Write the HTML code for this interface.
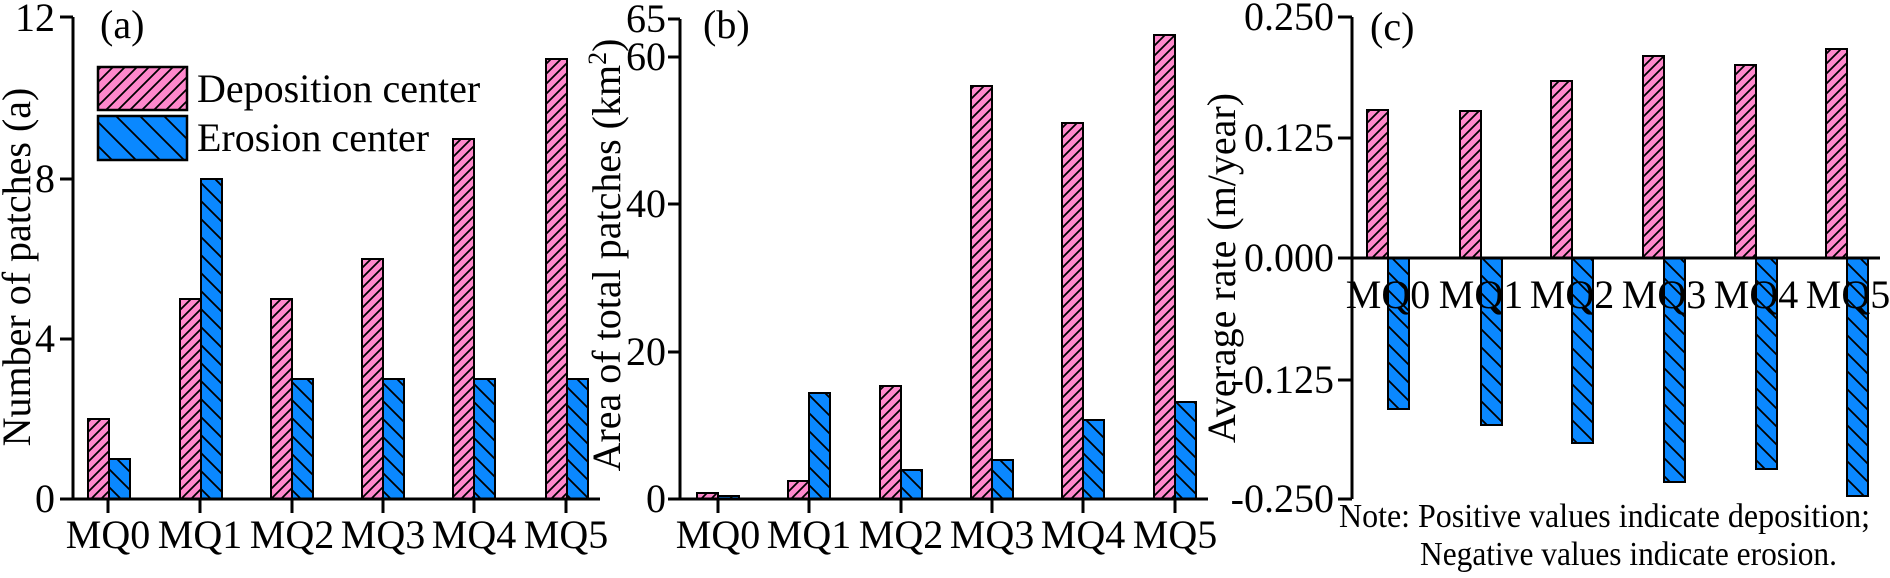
<!DOCTYPE html>
<html><head><meta charset="utf-8"><style>
html,body{margin:0;padding:0;background:#fff;}
svg{display:block;}
svg text{font-family:"Liberation Serif","DejaVu Serif",serif !important;fill:#000;}
</style></head><body>
<svg width="1890" height="578" viewBox="0 0 1890 578" xmlns="http://www.w3.org/2000/svg" font-family="Liberation Serif, DejaVu Serif, serif" style="font-family:'Liberation Serif','DejaVu Serif',serif">
<defs>
<pattern id="pk" patternUnits="userSpaceOnUse" width="10" height="10">
<rect width="10" height="10" fill="#FF88CC"/>
<path d="M-2,12 L12,-2 M-7,7 L7,-7 M3,17 L17,3" stroke="#000" stroke-width="1.8"/>
</pattern>
<pattern id="bl" patternUnits="userSpaceOnUse" width="18" height="18">
<rect width="18" height="18" fill="#0A88FF"/>
<path d="M-2,-2 L20,20 M-11,7 L11,29 M7,-11 L29,11" stroke="#000" stroke-width="1.8"/>
</pattern>
<pattern id="pkL" patternUnits="userSpaceOnUse" width="12" height="12">
<rect width="12" height="12" fill="#FF88CC"/>
<path d="M-2,14 L14,-2 M-8,8 L8,-8 M4,20 L20,4" stroke="#000" stroke-width="1.8"/>
</pattern>
<pattern id="blL" patternUnits="userSpaceOnUse" width="24" height="24">
<rect width="24" height="24" fill="#0A88FF"/>
<path d="M-2,-2 L26,26 M-14,10 L14,38 M10,-14 L38,14" stroke="#000" stroke-width="1.8"/>
</pattern>
</defs>

<!-- ===== Panel (a) ===== -->
<g stroke="#000" stroke-width="2">
<rect x="88" y="419" width="21" height="80" fill="url(#pk)"/>
<rect x="109" y="459" width="21" height="40" fill="url(#bl)"/>
<rect x="180" y="299" width="21" height="200" fill="url(#pk)"/>
<rect x="201" y="179" width="21" height="320" fill="url(#bl)"/>
<rect x="271" y="299" width="21" height="200" fill="url(#pk)"/>
<rect x="292" y="379" width="21" height="120" fill="url(#bl)"/>
<rect x="362" y="259" width="21" height="240" fill="url(#pk)"/>
<rect x="383" y="379" width="21" height="120" fill="url(#bl)"/>
<rect x="453" y="139" width="21" height="360" fill="url(#pk)"/>
<rect x="474" y="379" width="21" height="120" fill="url(#bl)"/>
<rect x="546" y="59" width="21" height="440" fill="url(#pk)"/>
<rect x="567" y="379" width="21" height="120" fill="url(#bl)"/>
</g>
<g stroke="#000" stroke-width="3" fill="none">
<path d="M73,17 V499 H600"/>
<path d="M60,17 H73 M60,179 H73 M60,339 H73 M60,499 H73"/>
<path d="M108,499 V513 M200,499 V513 M292,499 V513 M383,499 V513 M474,499 V513 M566,499 V513"/>
</g>
<g font-size="40" text-anchor="end">
<text x="55" y="31">12</text><text x="55" y="192">8</text><text x="55" y="352">4</text><text x="55" y="512">0</text>
</g>
<g font-size="40" text-anchor="middle">
<text x="108" y="548">MQ0</text><text x="200" y="548">MQ1</text><text x="292" y="548">MQ2</text><text x="383" y="548">MQ3</text><text x="474" y="548">MQ4</text><text x="566" y="548">MQ5</text>
</g>
<text x="100" y="38" font-size="40">(a)</text>
<rect x="98" y="67" width="89" height="43" fill="url(#pkL)" stroke="#000" stroke-width="2.5"/>
<rect x="98" y="116" width="89" height="44" fill="url(#blL)" stroke="#000" stroke-width="2.5"/>
<text x="197" y="102" font-size="40">Deposition center</text>
<text x="197" y="151" font-size="40">Erosion center</text>
<text transform="translate(30,267) rotate(-90)" font-size="40" text-anchor="middle">Number of patches (a)</text>

<!-- ===== Panel (b) ===== -->
<g stroke="#000" stroke-width="2">
<rect x="697" y="493" width="21" height="6" fill="url(#pk)"/>
<rect x="718" y="496" width="21" height="3" fill="url(#bl)"/>
<rect x="788" y="481" width="21" height="18" fill="url(#pk)"/>
<rect x="809" y="393" width="21" height="106" fill="url(#bl)"/>
<rect x="880" y="386" width="21" height="113" fill="url(#pk)"/>
<rect x="901" y="470" width="21" height="29" fill="url(#bl)"/>
<rect x="971" y="86" width="21" height="413" fill="url(#pk)"/>
<rect x="992" y="460" width="21" height="39" fill="url(#bl)"/>
<rect x="1062" y="123" width="21" height="376" fill="url(#pk)"/>
<rect x="1083" y="420" width="21" height="79" fill="url(#bl)"/>
<rect x="1154" y="35" width="21" height="464" fill="url(#pk)"/>
<rect x="1175" y="402" width="21" height="97" fill="url(#bl)"/>
</g>
<g stroke="#000" stroke-width="3" fill="none">
<path d="M680,19 V499 H1208"/>
<path d="M668,19 H680 M668,57 H680 M668,204 H680 M668,352 H680 M668,499 H680"/>
<path d="M718,499 V513 M809,499 V513 M901,499 V513 M992,499 V513 M1083,499 V513 M1175,499 V513"/>
</g>
<g font-size="40" text-anchor="end">
<text x="666" y="32">65</text><text x="666" y="70">60</text><text x="666" y="217">40</text><text x="666" y="365">20</text><text x="666" y="512">0</text>
</g>
<g font-size="40" text-anchor="middle">
<text x="718" y="548">MQ0</text><text x="809" y="548">MQ1</text><text x="901" y="548">MQ2</text><text x="992" y="548">MQ3</text><text x="1083" y="548">MQ4</text><text x="1175" y="548">MQ5</text>
</g>
<text x="703" y="38" font-size="40">(b)</text>
<text transform="translate(620,255) rotate(-90)" font-size="40" text-anchor="middle">Area of total patches (km<tspan font-size="26" dy="-14">2</tspan><tspan dy="14">)</tspan></text>

<!-- ===== Panel (c) ===== -->
<g stroke="#000" stroke-width="2">
<rect x="1367" y="110" width="21" height="148" fill="url(#pk)"/>
<rect x="1388" y="258" width="21" height="151" fill="url(#bl)"/>
<rect x="1460" y="111" width="21" height="147" fill="url(#pk)"/>
<rect x="1481" y="258" width="21" height="167" fill="url(#bl)"/>
<rect x="1551" y="81" width="21" height="177" fill="url(#pk)"/>
<rect x="1572" y="258" width="21" height="185" fill="url(#bl)"/>
<rect x="1643" y="56" width="21" height="202" fill="url(#pk)"/>
<rect x="1664" y="258" width="21" height="224" fill="url(#bl)"/>
<rect x="1735" y="65" width="21" height="193" fill="url(#pk)"/>
<rect x="1756" y="258" width="21" height="211" fill="url(#bl)"/>
<rect x="1826" y="49" width="21" height="209" fill="url(#pk)"/>
<rect x="1847" y="258" width="21" height="238" fill="url(#bl)"/>
</g>
<g stroke="#000" stroke-width="3" fill="none">
<path d="M1352,17 V499"/>
<path d="M1352,258 H1880"/>
<path d="M1338,17 H1352 M1338,138 H1352 M1338,258 H1352 M1338,380 H1352 M1338,499 H1352"/>
</g>
<g font-size="40" text-anchor="end">
<text x="1334" y="30">0.250</text><text x="1334" y="151">0.125</text><text x="1334" y="271">0.000</text><text x="1334" y="393">-0.125</text><text x="1334" y="512">-0.250</text>
</g>
<g font-size="40" text-anchor="middle">
<text x="1388" y="308">MQ0</text><text x="1481" y="308">MQ1</text><text x="1572" y="308">MQ2</text><text x="1664" y="308">MQ3</text><text x="1756" y="308">MQ4</text><text x="1848" y="308">MQ5</text>
</g>
<text x="1370" y="40" font-size="40">(c)</text>
<text transform="translate(1235,268) rotate(-90)" font-size="40" text-anchor="middle">Average rate (m/year)</text>
<text x="1339" y="527" font-size="34" textLength="531" lengthAdjust="spacingAndGlyphs">Note: Positive values indicate deposition;</text>
<text x="1420" y="565" font-size="34" textLength="417" lengthAdjust="spacingAndGlyphs">Negative values indicate erosion.</text>
</svg>
</body></html>
